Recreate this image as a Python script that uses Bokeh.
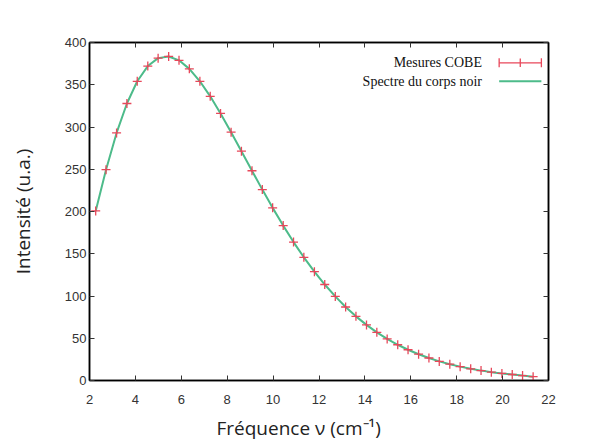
from bokeh.plotting import figure
from bokeh.models import Range1d, FixedTicker, LinearAxis, Label, Arrow, TeeHead, Title
from bokeh.embed import file_html
from bokeh.resources import INLINE

# COBE FIRAS measurements
freq = [2.27, 2.72, 3.18, 3.63, 4.08, 4.54, 4.99, 5.45, 5.90, 6.35, 6.81, 7.26,
        7.71, 8.17, 8.62, 9.08, 9.53, 9.98, 10.44, 10.89, 11.34, 11.80, 12.25,
        12.71, 13.16, 13.61, 14.07, 14.52, 14.97, 15.43, 15.88, 16.34, 16.79,
        17.24, 17.70, 18.15, 18.61, 19.06, 19.51, 19.97, 20.42, 20.87, 21.33]
intensity = [200.7, 249.5, 293.0, 327.8, 354.1, 372.1, 381.5, 383.5, 378.9,
             368.8, 354.1, 336.3, 316.1, 293.9, 271.4, 248.2, 225.9, 204.3,
             183.3, 163.8, 145.8, 128.8, 113.6, 99.5, 87.0, 75.9, 65.8, 57.0,
             49.2, 42.3, 36.4, 31.1, 26.6, 22.6, 19.3, 16.4, 13.8, 11.7, 9.9,
             8.4, 7.1, 5.8, 4.5]
x_ticks = [2, 4, 6, 8, 10, 12, 14, 16, 18, 20, 22]
y_ticks = [0, 50, 100, 150, 200, 250, 300, 350, 400]

RED = "#e8475a"
GREEN = "#4dbb8a"
LABEL_FONT = "Open Sans"

p = figure(width=582, height=448, output_backend="svg", toolbar_location=None,
           x_range=Range1d(2, 22), y_range=Range1d(0, 400),
           min_border_left=89, min_border_right=34, min_border_top=42,
           min_border_bottom=68)
p.background_fill_color = "white"
p.border_fill_color = "white"
p.outline_line_color = "black"
p.outline_line_width = 1.5
p.grid.visible = False

def style_axis(ax, ticks, labels=True):
    ax.ticker = FixedTicker(ticks=ticks)
    ax.major_tick_in = 5
    ax.major_tick_out = 0
    ax.minor_tick_line_color = None
    ax.axis_line_color = "black"
    ax.axis_line_width = 1.5
    ax.major_tick_line_color = "#333333"
    ax.major_tick_line_width = 1
    ax.major_label_text_font = "Liberation Sans"
    ax.major_label_text_font_size = "13px"
    ax.major_label_text_color = "#333333"
    if not labels:
        ax.major_label_text_font_size = "0px"
        ax.major_label_text_alpha = 0

style_axis(p.xaxis[0], x_ticks)
style_axis(p.yaxis[0], y_ticks)
p.xaxis[0].major_label_standoff = 14
p.yaxis[0].major_label_standoff = 3

p.yaxis[0].axis_label = "Intensité (u.a.)"
p.yaxis[0].axis_label_text_font = LABEL_FONT
p.yaxis[0].axis_label_text_font_size = "19px"
p.yaxis[0].axis_label_text_font_style = "normal"
p.yaxis[0].axis_label_text_color = "#222222"
p.yaxis[0].axis_label_standoff = 26

top = LinearAxis()
style_axis(top, x_ticks, labels=False)
p.add_layout(top, "above")
right = LinearAxis()
style_axis(right, y_ticks, labels=False)
p.add_layout(right, "right")

# blackbody curve and measurements
p.line(freq, intensity, line_color=GREEN, line_width=2)
p.scatter(freq, intensity, marker="cross", size=9, line_color=RED, line_width=1.3)

# x axis label (offset to the left like the reference)
p.add_layout(Title(text="Fréquence ν (cm⁻¹)", text_font=LABEL_FONT,
                   text_font_size="19px", text_font_style="normal",
                   text_color="#222222", align="left", offset=127,
                   standoff=13), "below")

# custom legend (label on the left, sample on the right)
p.add_layout(Label(x=19.1, y=376, text="Mesures COBE", text_font="Liberation Serif",
                   text_font_size="14px", text_color="#111111",
                   text_align="right", text_baseline="middle"))
p.add_layout(Label(x=19.1, y=354, text="Spectre du corps noir", text_font="Liberation Serif",
                   text_font_size="14px", text_color="#111111",
                   text_align="right", text_baseline="middle"))
p.add_layout(Arrow(x_start=19.85, y_start=376, x_end=21.69, y_end=376,
                   start=TeeHead(size=9, line_color=RED, line_width=1.3),
                   end=TeeHead(size=9, line_color=RED, line_width=1.3),
                   line_color=RED, line_width=1.3))
p.add_layout(Arrow(x_start=20.77, y_start=371, x_end=20.77, y_end=381, end=None,
                   line_color=RED, line_width=1.3))
p.add_layout(Arrow(x_start=19.85, y_start=354, x_end=21.69, y_end=354, end=None,
                   line_color=GREEN, line_width=2))

open("out.html", "w").write(file_html(p, INLINE))
